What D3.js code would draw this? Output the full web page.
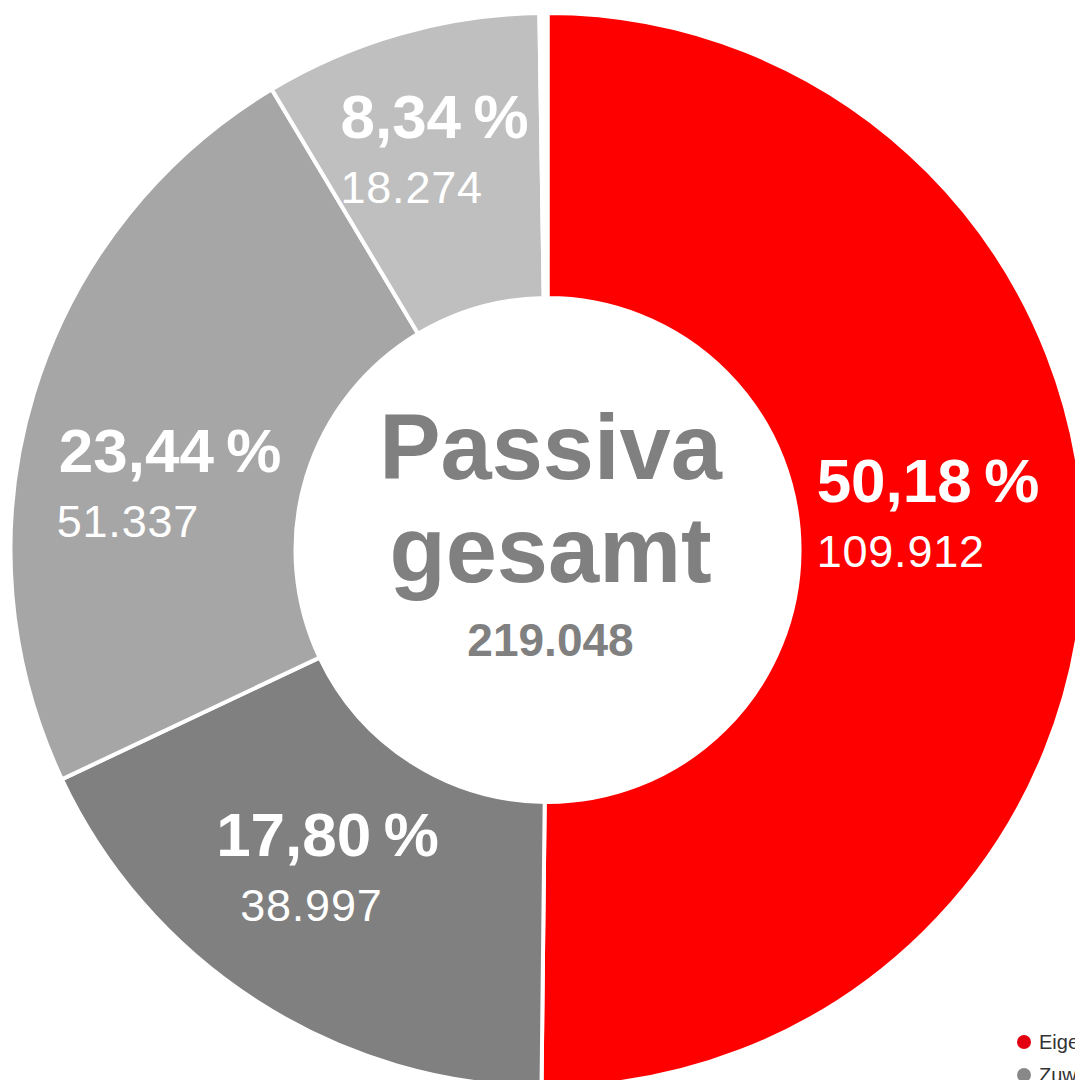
<!DOCTYPE html>
<html>
<head>
<meta charset="utf-8">
<script src="https://cdn.jsdelivr.net/npm/d3@7"></script>
<style>
  body { margin: 0; background: #fff; }
  svg { display: block; font-family: "Liberation Sans", Arial, Helvetica, sans-serif; }
</style>
</head>
<body>
<svg id="chart" width="1075" height="1080"></svg>
<script>
// segments, clockwise from 12 o'clock
var categories = ["Eigenkapital", "Zuwendungen", "Rückstellungen", "Verbindlichkeiten", "Sonstiges"];
var values = [109912, 38997, 51337, 18274, 528];
var colors = ["#ff0000", "#808080", "#a6a6a6", "#bfbfbf", "#ffffff"];
var legendColors = ["#e3000f", "#888888"];
var centerTitle = ["Passiva", "gesamt"];
var total = 219048;

// label nudges relative to arc centroid (only the 4 labelled slices)
var nudge = [
  { dx: -14, dy: -50, indent: 0 },
  { dx: -7, dy: -26, indent: 24 },
  { dx: 0, dy: 37, indent: -2 },
  { dx: -5, dy: -33, indent: 0 }
];

var de = d3.formatLocale({ decimal: ",", thousands: ".", grouping: [3], currency: ["", " €"] });
var fmtNum = de.format(",d");
var fmtPct = de.format(".2f");

var svg = d3.select("#chart"),
  cx = 547.5,
  cy = 550,
  outerR = 537,
  innerR = 252;

var pie = d3.pie().sort(null).value((d) => d);
var arc = d3.arc().innerRadius(innerR).outerRadius(outerR);
var labelArc = d3.arc().innerRadius((innerR + outerR) / 2).outerRadius((innerR + outerR) / 2);

var g = svg.append("g").attr("transform", `translate(${cx},${cy})`);

var arcs = pie(values);

g.selectAll("path.slice")
  .data(arcs)
  .enter()
  .append("path")
  .attr("class", "slice")
  .attr("d", arc)
  .attr("fill", (d, i) => colors[i])
  .attr("stroke", "#fff")
  .attr("stroke-width", 4)
  .attr("stroke-linejoin", "miter");

var labels = g.selectAll("g.label")
  .data(arcs.slice(0, 4))
  .enter()
  .append("g")
  .attr("class", "label")
  .attr("fill", "#fff");

labels.each(function (d, i) {
  var c = labelArc.centroid(d);
  var x = c[0] + nudge[i].dx,
    y = c[1] + nudge[i].dy;
  var sel = d3.select(this);
  var pct = sel.append("text")
    .attr("x", x)
    .attr("y", y)
    .attr("text-anchor", "middle")
    .attr("font-weight", "bold")
    .attr("font-size", 62)
    .text(fmtPct((d.data / total) * 100) + "\u2009%");
  var bb = pct.node().getBBox();
  sel.append("text")
    .attr("x", bb.x + nudge[i].indent)
    .attr("y", y + 65)
    .attr("font-size", 45)
    .attr("letter-spacing", 0.8)
    .text(fmtNum(d.data));
});

// centre
var center = g.append("g").attr("fill", "#808080").attr("text-anchor", "middle").attr("font-weight", "bold");
center.selectAll("text.title")
  .data(centerTitle)
  .enter()
  .append("text")
  .attr("class", "title")
  .attr("x", 3)
  .attr("y", (d, i) => -71 + i * 103)
  .attr("font-size", 92)
  .text((d) => d);
center.append("text")
  .attr("x", 3)
  .attr("y", 106)
  .attr("font-size", 46)
  .text(fmtNum(total));

// legend (runs off the right edge like the original)
var legend = svg.append("g").attr("transform", "translate(1024,1042)");
var item = legend.selectAll("g")
  .data(categories.slice(0, 2))
  .enter()
  .append("g")
  .attr("transform", (d, i) => `translate(0,${i * 33})`);
item.append("circle")
  .attr("r", 7)
  .attr("fill", (d, i) => legendColors[i]);
item.append("text")
  .attr("x", 15)
  .attr("y", 7)
  .attr("font-size", 20)
  .attr("fill", "#333")
  .text((d) => d);
</script>
</body>
</html>
